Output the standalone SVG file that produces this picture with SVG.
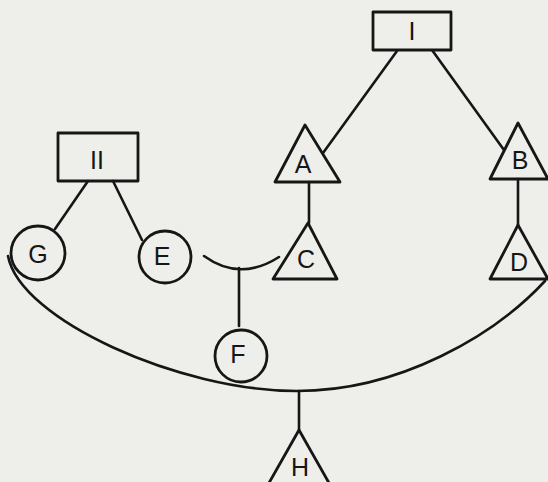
<svg xmlns="http://www.w3.org/2000/svg" width="548" height="482" viewBox="0 0 548 482">
  <style>
    .shape { fill: none; stroke: #161616; stroke-width: 2.8; stroke-linejoin: round; }
    .conn { fill: none; stroke: #161616; stroke-width: 2.6; stroke-linecap: round; }
    .lbl { font-family: "Liberation Sans", Arial, sans-serif; font-size: 25px; fill: #161616; text-anchor: middle; dominant-baseline: central; }
  </style>
  <rect x="0" y="0" width="548" height="482" fill="#eeeeea"/>
  <g id="connectors">
    <line class="conn" x1="397" y1="51" x2="323" y2="153"/>
    <line class="conn" x1="432" y1="50" x2="504" y2="150"/>
    <line class="conn" x1="309" y1="182" x2="309" y2="223"/>
    <line class="conn" x1="518" y1="179" x2="518" y2="225"/>
    <line class="conn" x1="88" y1="181" x2="55" y2="229"/>
    <line class="conn" x1="113" y1="181" x2="142" y2="240"/>
    <path class="conn" d="M 204 256 Q 240 282 279 257"/>
    <line class="conn" x1="239" y1="268" x2="239" y2="326"/>
    <path class="conn" d="M 8 256 C 20 320 180 391 297 391 C 400 391 495 335 545 281" stroke-width="3.2"/>
    <line class="conn" x1="299" y1="391" x2="299" y2="430"/>
  </g>
  <g id="node-I">
    <rect class="shape" x="373" y="12" width="78" height="38"/>
    <text class="lbl" x="412" y="31">I</text>
  </g>
  <g id="node-II">
    <rect class="shape" x="58" y="133" width="80" height="48"/>
    <text class="lbl" x="97" y="160">II</text>
  </g>
  <g id="node-A">
    <polygon class="shape" points="305,125 340,182 275,182"/>
    <text class="lbl" x="303" y="164">A</text>
  </g>
  <g id="node-B">
    <polygon class="shape" points="518,123 548,179 490,179"/>
    <text class="lbl" x="520" y="160">B</text>
  </g>
  <g id="node-C">
    <polygon class="shape" points="308,223 337,279 273,279"/>
    <text class="lbl" x="306" y="259">C</text>
  </g>
  <g id="node-D">
    <polygon class="shape" points="518,225 548,279 490,279"/>
    <text class="lbl" x="519" y="262">D</text>
  </g>
  <g id="node-G">
    <circle class="shape" cx="38" cy="253" r="27"/>
    <text class="lbl" x="38" y="254">G</text>
  </g>
  <g id="node-E">
    <circle class="shape" cx="165" cy="257" r="26"/>
    <text class="lbl" x="162" y="256">E</text>
  </g>
  <g id="node-F">
    <circle class="shape" cx="241" cy="356" r="26"/>
    <text class="lbl" x="238" y="354">F</text>
  </g>
  <g id="node-H">
    <polygon class="shape" points="299,430 333,490 265,490"/>
    <text class="lbl" x="300" y="467">H</text>
  </g>
</svg>
